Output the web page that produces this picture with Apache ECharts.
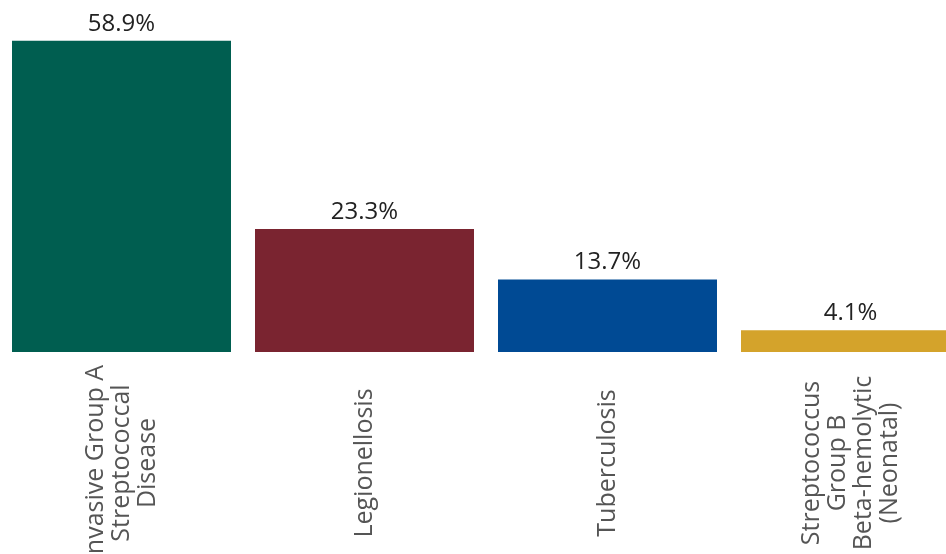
<!DOCTYPE html>
<html>
<head>
<meta charset="utf-8">
<script src="https://cdn.jsdelivr.net/npm/echarts@6/dist/echarts.min.js"></script>
<style>
  html, body { margin: 0; padding: 0; background: #fff; }
  #chart { width: 946px; height: 554px; }
</style>
</head>
<body>
<div id="chart"></div>
<script>
// Share of cases by disease (percent)
const categories = [
  'Invasive Group A\nStreptococcal\nDisease',
  'Legionellosis',
  'Tuberculosis',
  'Streptococcus\nGroup B\nBeta-hemolytic\n(Neonatal)'
];
const values = [58.9, 23.3, 13.7, 4.1];
const barColors = ['#005E50', '#7A2430', '#004A94', '#D4A32B'];

const chart = echarts.init(document.getElementById('chart'), null, { renderer: 'canvas' });

chart.setOption({
  animation: false,
  backgroundColor: '#ffffff',
  // the plot runs past the right edge, so the last bar is clipped
  grid: { left: 0, width: 972, top: 35, height: 317, containLabel: false, outerBoundsMode: 'none' },
  xAxis: {
    type: 'category',
    data: categories,
    axisLine: { show: false },
    axisTick: { show: false },
    axisLabel: {
      interval: 0,
      rotate: 90,
      align: 'center',
      margin: 111,
      fontFamily: 'Open Sans',
      fontSize: 25,
      lineHeight: 26,
      color: '#555555'
    }
  },
  yAxis: {
    type: 'value',
    min: 0,
    max: 60,
    show: false,
    splitLine: { show: false }
  },
  series: [{
    type: 'bar',
    barWidth: 219,
    data: values.map((v, i) => ({ value: v, itemStyle: { color: barColors[i] } })),
    label: {
      show: true,
      position: 'top',
      distance: 5,
      fontFamily: 'Open Sans',
      fontSize: 24,
      color: '#222222',
      formatter: p => p.value.toFixed(1) + '%'
    }
  }]
});
</script>
</body>
</html>
